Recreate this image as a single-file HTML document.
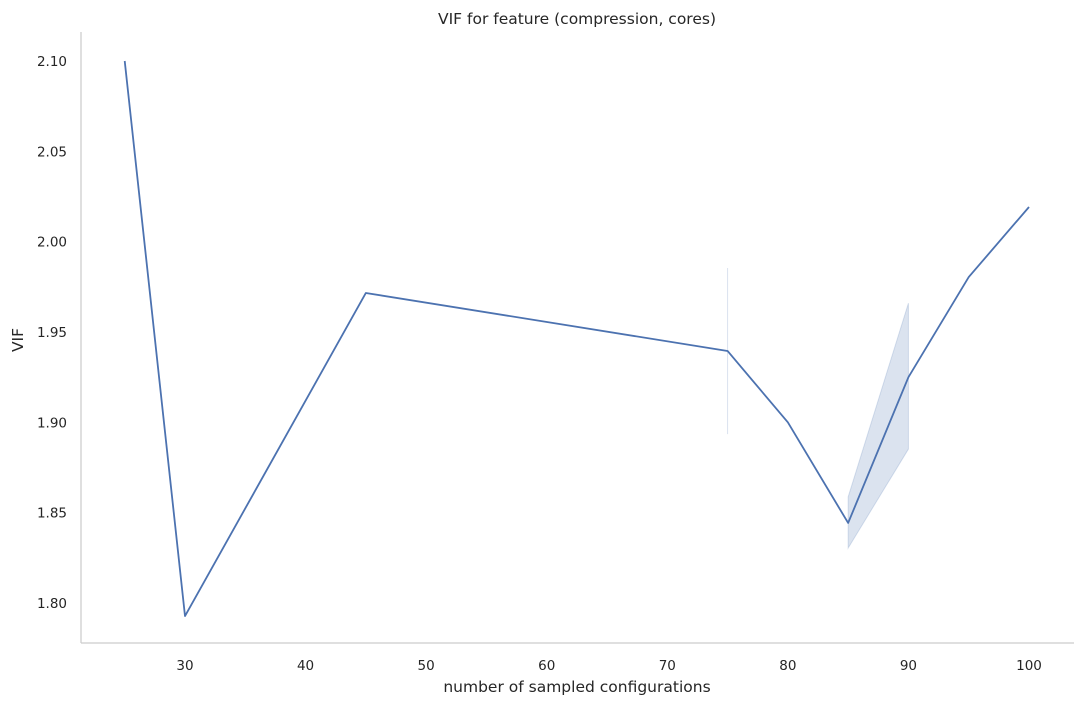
<!DOCTYPE html>
<html><head><meta charset="utf-8"><style>
html,body{margin:0;padding:0;background:#fff;}
svg{display:block;font-family:"DejaVu Sans","Liberation Sans",sans-serif;}
</style></head><body>
<svg id="chart" width="1084" height="706">
<text x="577" y="24" text-anchor="middle" font-size="15.5" fill="#262626">VIF for feature (compression, cores)</text>
<line x1="81" y1="32" x2="81" y2="643" stroke="#cccccc" stroke-width="1.25"/>
<line x1="81" y1="643" x2="1074" y2="643" stroke="#cccccc" stroke-width="1.25"/>
<g id="xticks"></g>
<g id="yticks"></g>
<g id="band"></g>
<g id="line"></g>
<text x="577" y="692" text-anchor="middle" font-size="15.5" fill="#262626">number of sampled configurations</text>
<text x="0" y="0" transform="translate(23,340) rotate(-90)" text-anchor="middle" font-size="15.5" fill="#262626">VIF</text>
</svg>
<script>
const xValues=[25,30,45,75,80,85,90,95,100];
const yValues=[2.10,1.7928,1.9716,1.9395,1.900,1.8443,1.925,1.9804,2.0192];
const ciLow=[null,null,null,1.8935,null,1.8304,1.8852,null,null];
const ciHigh=[null,null,null,1.9854,null,1.8587,1.966,null,null];
const xTickLabels=[30,40,50,60,70,80,90,100];
const yTickLabels=["1.80","1.85","1.90","1.95","2.00","2.05","2.10"];
const NS="http://www.w3.org/2000/svg";
function sx(v){return 185+(v-30)*(844/70);}
function sy(v){return 603-(v-1.80)*(542/0.30);}
function mk(tag,attrs,parent){const e=document.createElementNS(NS,tag);for(const k in attrs)e.setAttribute(k,attrs[k]);parent.appendChild(e);return e;}
const xt=document.getElementById('xticks');
xTickLabels.forEach(v=>{const t=mk('text',{x:sx(v),y:670,'text-anchor':'middle','font-size':13.5,fill:'#262626'},xt);t.textContent=v;

});
const yt=document.getElementById('yticks');
yTickLabels.forEach(v=>{const t=mk('text',{x:67,y:sy(parseFloat(v))+5,'text-anchor':'end','font-size':13.5,fill:'#262626'},yt);t.textContent=v;

});
const band=document.getElementById('band');
let segs=[],cur=[];
for(let i=0;i<xValues.length;i++){if(ciLow[i]==null){if(cur.length)segs.push(cur);cur=[];}else cur.push(i);}
if(cur.length)segs.push(cur);
segs.forEach(s=>{let pts=[];
s.forEach(i=>pts.push(sx(xValues[i])+','+sy(ciHigh[i])));
s.slice().reverse().forEach(i=>pts.push(sx(xValues[i])+','+sy(ciLow[i])));
const poly=mk('polygon',{points:pts.join(' '),fill:'#4c72b0','fill-opacity':0.2,stroke:'#4c72b0','stroke-opacity':0.2,'stroke-width':1},band);

});
const lg=document.getElementById('line');
const pl=mk('polyline',{points:xValues.map((v,i)=>sx(v)+','+sy(yValues[i])).join(' '),fill:'none',stroke:'#4c72b0','stroke-width':1.8,'stroke-linejoin':'round'},lg);


</script>
</body></html>
